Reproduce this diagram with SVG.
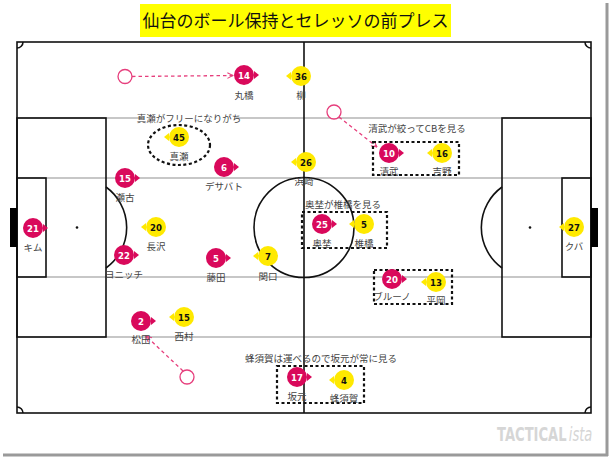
<svg xmlns="http://www.w3.org/2000/svg" width="611" height="459" viewBox="0 0 611 459">
<defs>
<style>
.ln{fill:none;stroke:#111;stroke-width:1.6}
.lane{stroke:#b4b4b4;stroke-width:1.5}
.box{fill:none;stroke:#111;stroke-width:2.2;stroke-dasharray:3 2.5}
.dash{fill:none;stroke:#e63e7c;stroke-width:1.3;stroke-dasharray:3.5 3}
.ring{fill:#fff;stroke:#e63e7c;stroke-width:1.3}
.cm{fill:#d9095b}
.cy{fill:#ffe900}
.nw{font-family:"DejaVu Sans","Liberation Sans",sans-serif;font-stretch:condensed;font-weight:bold;font-size:9.5px;fill:#fff;text-anchor:middle}
.nb{font-family:"DejaVu Sans","Liberation Sans",sans-serif;font-stretch:condensed;font-weight:bold;font-size:9.5px;fill:#111;text-anchor:middle}
.lb{font-family:"Noto Sans CJK JP","Noto Sans",sans-serif;font-size:9.5px;fill:#444;text-anchor:middle}
.nt{font-family:"Noto Sans CJK JP","Noto Sans",sans-serif;font-size:9.5px;fill:#444;text-anchor:middle}
.wm{font-family:"DejaVu Sans",sans-serif;font-size:19px;fill:#d6d6d6}
</style>
<marker id="ah" viewBox="0 0 10 10" refX="9" refY="5" markerWidth="7" markerHeight="7" orient="auto" markerUnits="userSpaceOnUse">
<path d="M1,1 L9,5 L1,9" fill="none" stroke="#e63e7c" stroke-width="1.5"/>
</marker>
<g id="pm"><circle r="10" class="cm"/><polygon points="10,-4 15,0 10,4" class="cm"/></g>
<g id="py"><circle r="10" class="cy"/><polygon points="-10,-4 -15,0 -10,4" class="cy"/></g>
</defs>
<rect width="611" height="459" fill="#fff"/>
<!-- frame shadow -->
<line x1="607" y1="3" x2="607" y2="456" stroke="#9a9a9a" stroke-width="3"/>
<line x1="3" y1="455" x2="608" y2="455" stroke="#9a9a9a" stroke-width="3"/>
<!-- title -->
<g id="title">
<rect x="140" y="4" width="311" height="33" fill="#ffff00"/>
<text x="295.5" y="27" font-family="Noto Sans CJK JP,sans-serif" font-size="17" fill="#111" text-anchor="middle">仙台のボール保持とセレッソの前プレス</text>
</g>
<!-- pitch -->
<g id="pitch">
<line x1="17" y1="118" x2="591" y2="118" class="lane"/>
<line x1="17" y1="178" x2="591" y2="178" class="lane"/>
<line x1="17" y1="277" x2="591" y2="277" class="lane"/>
<line x1="17" y1="337" x2="591" y2="337" class="lane"/>
<rect x="17" y="42" width="574" height="371" class="ln"/>
<line x1="304" y1="42" x2="304" y2="413" class="ln"/>
<circle cx="304" cy="227.5" r="50" class="ln"/>
<rect x="17" y="118" width="89" height="219" class="ln"/>
<rect x="17" y="178" width="29" height="99" class="ln"/>
<rect x="502" y="118" width="89" height="219" class="ln"/>
<rect x="562" y="178" width="29" height="99" class="ln"/>
<path d="M106,187 A50,50 0 0 1 106,268" class="ln"/>
<path d="M502,187 A50,50 0 0 0 502,268" class="ln"/>
<circle cx="77" cy="227.5" r="1.3" fill="#111"/>
<circle cx="530" cy="227.5" r="1.3" fill="#111"/>
<rect x="10" y="208" width="7" height="39" fill="#000"/>
<rect x="591" y="208" width="7" height="39" fill="#000"/>
<path d="M17,48 A6,6 0 0 0 23,42" class="ln"/>
<path d="M585,42 A6,6 0 0 0 591,48" class="ln"/>
<path d="M17,407 A6,6 0 0 1 23,413" class="ln"/>
<path d="M585,413 A6,6 0 0 1 591,407" class="ln"/>
</g>
<!-- connectors -->
<g id="connectors">
<line x1="132" y1="76.5" x2="233" y2="75.5" class="dash" marker-end="url(#ah)"/>
<line x1="339" y1="117" x2="377" y2="147" class="dash" marker-end="url(#ah)"/>
<line x1="183" y1="371" x2="146" y2="336" class="dash" marker-end="url(#ah)"/>
<circle cx="125" cy="76.5" r="7" class="ring"/>
<circle cx="334" cy="112" r="7" class="ring"/>
<circle cx="187" cy="377" r="7" class="ring"/>
</g>
<!-- notes & boxes -->
<g id="notes">
<rect x="142" y="111" width="94" height="14" fill="#fff"/>
<text x="189" y="121.5" class="nt">真瀬がフリーになりがち</text>
<ellipse cx="179" cy="145" rx="31" ry="20" class="box"/>
<text x="417" y="132" class="nt">清武が絞ってCBを見る</text>
<rect x="373" y="142" width="86" height="33" class="box"/>
<text x="343" y="208" class="nt">奥埜が椎橋を見る</text>
<rect x="302" y="212" width="85" height="36" class="box"/>
<rect x="374" y="270" width="78" height="34" class="box"/>
<text x="321" y="362" class="nt">蜂須賀は運べるので坂元が常に見る</text>
<rect x="277" y="366" width="87" height="37" class="box"/>
</g>
<!-- players: Cerezo (magenta) -->
<g id="p-c14"><use href="#pm" x="244" y="75"/><text x="244" y="78.5" class="nw">14</text><text x="244" y="99" class="lb">丸橋</text></g>
<g id="p-c15"><use href="#pm" x="125" y="178"/><text x="125" y="181.5" class="nw">15</text><text x="125" y="201" class="lb">瀬古</text></g>
<g id="p-c6"><use href="#pm" x="224" y="167"/><text x="224" y="170.5" class="nw">6</text><text x="224" y="190" class="lb">デサバト</text></g>
<g id="p-c10"><use href="#pm" x="389" y="153"/><text x="389" y="156.5" class="nw">10</text><text x="389" y="175" class="lb">清武</text></g>
<g id="p-c25"><use href="#pm" x="322" y="224"/><text x="322" y="227.5" class="nw">25</text><text x="322" y="247" class="lb">奥埜</text></g>
<g id="p-c21"><use href="#pm" x="33" y="228"/><text x="33" y="231.5" class="nw">21</text><text x="33" y="251" class="lb">キム</text></g>
<g id="p-c22"><use href="#pm" x="124" y="255"/><text x="124" y="258.5" class="nw">22</text><text x="124" y="278" class="lb">ヨニッチ</text></g>
<g id="p-c5"><use href="#pm" x="216" y="258"/><text x="216" y="261.5" class="nw">5</text><text x="216" y="281" class="lb">藤田</text></g>
<g id="p-c20"><use href="#pm" x="392" y="279"/><text x="392" y="282.5" class="nw">20</text><text x="392" y="300" class="lb">ブルーノ</text></g>
<g id="p-c2"><use href="#pm" x="141" y="321"/><text x="141" y="324.5" class="nw">2</text><text x="141" y="343" class="lb">松田</text></g>
<g id="p-c17"><use href="#pm" x="297" y="377"/><text x="297" y="380.5" class="nw">17</text><text x="297" y="400" class="lb">坂元</text></g>
<!-- players: Sendai (yellow) -->
<g id="p-s36"><use href="#py" x="301" y="76"/><text x="301" y="79.5" class="nb">36</text><text x="301" y="99" class="lb">柳</text></g>
<g id="p-s45"><use href="#py" x="179" y="137"/><text x="179" y="140.5" class="nb">45</text><text x="179" y="160" class="lb">真瀬</text></g>
<g id="p-s26"><use href="#py" x="306" y="162"/><text x="306" y="165.5" class="nb">26</text><text x="304" y="185" class="lb">浜崎</text></g>
<g id="p-s16"><use href="#py" x="442" y="153"/><text x="442" y="156.5" class="nb">16</text><text x="442" y="175" class="lb">吉野</text></g>
<g id="p-s5"><use href="#py" x="364" y="224"/><text x="364" y="227.5" class="nb">5</text><text x="364" y="247" class="lb">椎橋</text></g>
<g id="p-s27"><use href="#py" x="574" y="227"/><text x="574" y="230.5" class="nb">27</text><text x="574" y="250" class="lb">クバ</text></g>
<g id="p-s20"><use href="#py" x="156" y="227"/><text x="156" y="230.5" class="nb">20</text><text x="156" y="250" class="lb">長沢</text></g>
<g id="p-s7"><use href="#py" x="268" y="256"/><text x="268" y="259.5" class="nb">7</text><text x="268" y="280" class="lb">関口</text></g>
<g id="p-s13"><use href="#py" x="436" y="282"/><text x="436" y="285.5" class="nb">13</text><text x="436" y="304" class="lb">平岡</text></g>
<g id="p-s15"><use href="#py" x="184" y="317"/><text x="184" y="320.5" class="nb">15</text><text x="184" y="340" class="lb">西村</text></g>
<g id="p-s4"><use href="#py" x="344" y="380"/><text x="344" y="383.5" class="nb">4</text><text x="344" y="402" class="lb">蜂須賀</text></g>
<!-- watermark -->
<g transform="translate(497,441) scale(0.69,1)">
<text x="0" y="0" class="wm" font-weight="bold">TACTICAL</text>
<text x="104" y="0" class="wm" font-style="italic">ista</text>
</g>
</svg>
